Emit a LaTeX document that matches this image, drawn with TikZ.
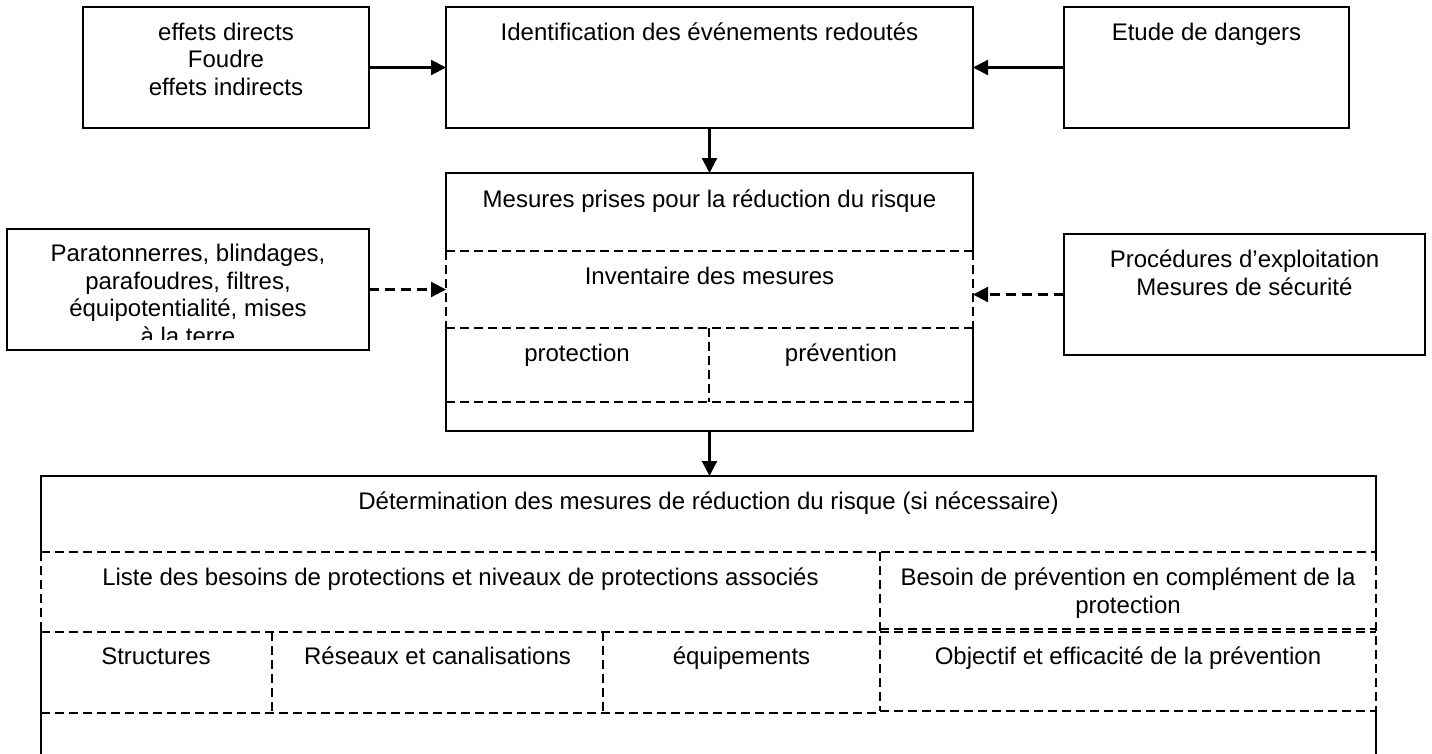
\documentclass[tikz,border=0pt]{standalone}
\usepackage{fontspec}
\setmainfont{Liberation Sans}
\usetikzlibrary{arrows.meta}

\tikzset{every picture/.style={line width=2pt}}
\tikzset{
  box/.style={draw, rectangle, inner sep=0pt, outer sep=0pt},
  cell/.style={line width=1.4pt, dash pattern=on 9pt off 5pt},
  flow/.style={line width=2.2pt, -{Triangle[length=15pt,width=15pt]}},
  dflow/.style={flow, dash pattern=on 10pt off 6pt},
  txt/.style={anchor=base, align=center, inner sep=0pt, font=\fontsize{24}{27.6}\selectfont},
}

\begin{document}
\begin{tikzpicture}[x=1pt,y=1pt,yscale=-1,xscale=1]
\useasboundingbox (0,0) rectangle (1432,753);

%Shape: Rectangle [foudre]
\node[box, minimum width=286pt, minimum height=121pt] (foudre) at (226,67.5) {};
%Shape: Rectangle [ident]
\node[box, minimum width=527pt, minimum height=121pt] (ident) at (709.5,67.5) {};
%Shape: Rectangle [etude]
\node[box, minimum width=285pt, minimum height=121pt] (etude) at (1206.5,67.5) {};
%Shape: Rectangle [parat]
\node[box, minimum width=362pt, minimum height=121pt] (parat) at (188,289.5) {};
%Shape: Rectangle [mesures]
\node[box, minimum width=527pt, minimum height=258pt] (mesures) at (709.5,302) {};
%Shape: Rectangle [proced]
\node[box, minimum width=361pt, minimum height=121pt] (proced) at (1244.5,294.5) {};
%Shape: Rectangle [determ] (bottom runs off the page)
\node[box, minimum width=1335pt, minimum height=300pt] (determ) at (708.5,626) {};

%Dashed cells in mesures
\draw[white, line width=3pt] (446,252) -- (446,327) (973,252) -- (973,327);
\draw[cell] (446,251) -- (973,251) ;
\draw[cell] (446,328) -- (973,328) ;
\draw[cell] (446,402) -- (973,402) ;
\draw[cell] (446,251) -- (446,328) (973,251) -- (973,328) ;
\draw[cell] (709,328) -- (709,402) ;

%Dashed cells in determ
\draw[white, line width=3pt] (41,553) -- (41,631) (1376,553) -- (1376,710);
\draw[cell] (41,552) -- (1376,552) ;
\draw[cell] (41,632) -- (880,632) ;
\draw[cell] (880,629) -- (1376,629) ;
\draw[cell] (880,632) -- (1376,632) ;
\draw[cell] (41,713) -- (880,713) ;
\draw[cell] (880,711) -- (1376,711) ;
\draw[cell] (41,552) -- (41,632) (1376,552) -- (1376,711) ;
\draw[cell] (880,552) -- (880,711) ;
\draw[cell] (272,632) -- (272,713) ;
\draw[cell] (603,632) -- (603,713) ;

%Straight Lines
\draw[flow] (foudre.east) -- (ident.west) ;
\draw[flow] (etude.west) -- (ident.east) ;
\draw[flow] (ident.south) -- (mesures.north) ;
\draw[dflow] (parat.east) -- (parat.east -| mesures.west) ;
\draw[dflow] (proced.west) -- (proced.west -| mesures.east) ;
\draw[flow] (mesures.south) -- (mesures.south |- determ.north) ;

% Text Node (base = last line)
\node[txt] (tfoudre) at (226,95.5) {effets directs\\Foudre\\effets indirects};
% Text Node
\node[txt] (tident) at (709.5,40) {Identification des événements redoutés};
% Text Node
\node[txt] (tetude) at (1206.5,40) {Etude de dangers};
% Text Node (cut by the box)
\begin{scope}
\clip (7,229) rectangle (369,339);
\node[txt] (tparat) at (188,344.5) {Paratonnerres, blindages,\\parafoudres, filtres,\\équipotentialité, mises\\à la terre};
\end{scope}
% Text Node
\node[txt] (tproced) at (1244.5,295) {Procédures d’exploitation\\Mesures de sécurité};
% Text Node
\node[txt] (tmesures) at (709.5,207) {Mesures prises pour la réduction du risque};
% Text Node
\node[txt] (tinvent) at (709.5,284) {Inventaire des mesures};
% Text Node
\node[txt] (tprot) at (577,361) {protection};
% Text Node
\node[txt] (tprev) at (841,361) {prévention};
% Text Node
\node[txt] (tdeterm) at (708.5,509) {Détermination des mesures de réduction du risque (si nécessaire)};
% Text Node
\node[txt] (tliste) at (460.5,585) {Liste des besoins de protections et niveaux de protections associés};
% Text Node
\node[txt] (tbesoin) at (1128,613) {Besoin de prévention en complément de la\\protection};
% Text Node
\node[txt] (tstruct) at (156,664) {Structures};
% Text Node
\node[txt] (treseau) at (437.5,664) {Réseaux et canalisations};
% Text Node
\node[txt] (tequip) at (741.5,664) {équipements};
% Text Node
\node[txt] (tobj) at (1128,664) {Objectif et efficacité de la prévention};

\end{tikzpicture}
\end{document}
